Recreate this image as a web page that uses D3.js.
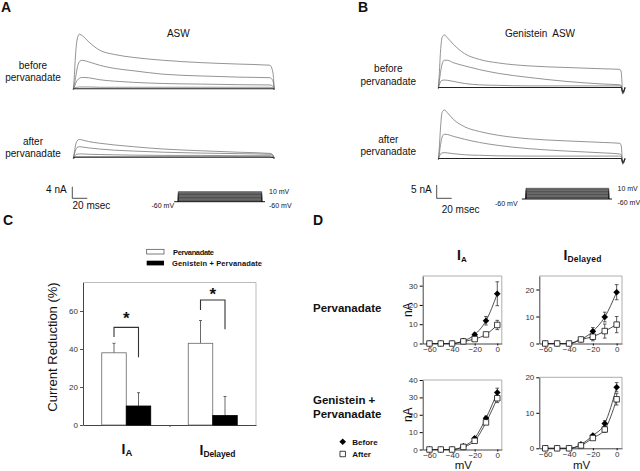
<!DOCTYPE html>
<html>
<head>
<meta charset="utf-8">
<style>
  body { margin: 0; background: #fff; }
  svg text { font-family: "Liberation Sans", Arial, sans-serif; fill: #111; }
  .tick text { fill: #333; }
</style>
</head>
<body>
<div id="figure"></div>
<script src="https://d3js.org/d3.v7.min.js"></script>
<script>
// ---------- data ----------
// A: ASW current traces (nA) sampled at timeA (msec)
var timeA = [0, 1, 3, 5, 8, 12, 20, 35, 55, 80, 120, 170, 220, 262, 266, 268];
var aswBefore = [
  [0, 3, 12, 17, 19, 18.5, 16.5, 13.5, 12, 11, 10, 9.2, 8.7, 8.3, 6, 0],
  [0, 1, 4, 7, 9.5, 10, 9.5, 8.3, 7.2, 6.4, 5.2, 4.6, 4.2, 4.0, 3, 0],
  [0, 0.5, 2, 3, 3.8, 4.1, 4, 3.3, 2.8, 2.4, 2, 1.8, 1.6, 1.5, 1.1, 0],
  [0, 0.3, 0.6, 0.7, 0.8, 0.8, 0.8, 0.7, 0.7, 0.7, 0.7, 0.7, 0.7, 0.7, 0.5, 0],
  [0, 0.2, 0.2, 0.2, 0.2, 0.2, 0.2, 0.2, 0.2, 0.2, 0.2, 0.2, 0.2, 0.2, 0.2, 0]
];
var aswAfter = [
  [0, 1.5, 4.5, 6, 6.5, 6.3, 5.8, 5.2, 4.6, 4, 3.2, 2.6, 2.1, 1.7, 1.2, 0],
  [0, 1, 2.8, 3.7, 4, 3.9, 3.6, 3.2, 2.8, 2.5, 2.1, 1.8, 1.6, 1.4, 1, 0],
  [0, 0.5, 1.2, 1.4, 1.5, 1.5, 1.4, 1.3, 1.2, 1.1, 1, 1, 0.9, 0.9, 0.6, 0],
  [0, 0.2, 0.4, 0.4, 0.4, 0.4, 0.4, 0.4, 0.4, 0.4, 0.4, 0.4, 0.4, 0.4, 0.3, 0]
];
// B: Genistein ASW traces
var timeB = [0, 1, 3, 5, 8, 12, 20, 35, 55, 80, 120, 170, 220, 242, 244, 246, 249];
var genBefore = [
  [0, 4, 14, 19, 20, 19, 16.5, 13, 10.8, 9.5, 8.4, 7.8, 7.3, 7.1, 6, -2, 0.3],
  [0, 2, 6, 9, 10.5, 10.5, 9.6, 8.4, 7, 5.6, 4.1, 2.6, 1.6, 1.3, 1, -2, 0.3],
  [0, 1, 2.5, 3, 3.1, 3, 2.6, 1.8, 1.3, 1.1, 0.9, 0.9, 0.9, 0.9, 0.8, -2, 0.3],
  [0, 0.3, 0.3, 0.3, 0.3, 0.3, 0.3, 0.3, 0.3, 0.3, 0.3, 0.3, 0.3, 0.3, 0.3, -1.5, 0.3]
];
var genAfter = [
  [0, 3, 12, 17.5, 18.5, 17.5, 15, 12.2, 10.4, 9, 7.7, 6.9, 6.3, 6, 5, -1.8, 0.3],
  [0, 1.5, 5.5, 8.3, 9.4, 9.3, 8.6, 7.5, 6.3, 5.2, 4, 3.1, 2.4, 2, 1.7, -1.8, 0.3],
  [0, 0.8, 2, 2.4, 2.5, 2.4, 2.1, 1.7, 1.5, 1.3, 1.2, 1.2, 1.2, 1.2, 1, -1.5, 0.3],
  [0, 0.3, 0.3, 0.3, 0.3, 0.3, 0.3, 0.3, 0.3, 0.3, 0.3, 0.3, 0.3, 0.3, 0.3, -1.2, 0.3]
];
// voltage protocol
var holdingV = -60;
var stepVolts = [-50, -40, -30, -20, -10, 0, 10];

// C: current reduction (%)
var groups = ["IA", "IDelayed"];
var pervReduction = [38, 43];
var pervReductionErr = [5, 12];
var genPervReduction = [10, 5];
var genPervReductionErr = [7, 10];
// significance brackets (% levels): left leg foot, bracket top, right leg foot, star
var bracketLeft = [46.3, 60.5];
var bracketTop = [51.4, 65.8];
var bracketRight = [35.6, 50.4];
var bracketStar = [57.4, 70.2];

// D: I-V curves (nA)
var voltages = [-60, -50, -40, -30, -20, -10, 0];
var pervIABefore = [0, 0, 0, 1.3, 4.6, 11.8, 25.8];
var pervIABeforeErr = [0, 0, 0, 0.5, 0.8, 2.2, 6.2];
var pervIAAfter = [0, 0, 0, 1.1, 2.3, 4.7, 9.6];
var pervIAAfterErr = [0, 0, 0, 0.3, 0.6, 0.8, 2.4];
var pervIDBefore = [0, 0, 0, 1.5, 4.5, 9.8, 19];
var pervIDBeforeErr = [0, 0, 0, 0.4, 1.4, 1.8, 2.8];
var pervIDAfter = [0, 0, 0, 1.5, 2.5, 4.6, 7];
var pervIDAfterErr = [0, 0, 0, 0.4, 1.5, 2.6, 3];
var genIABefore = [0, 0, 0, 1.8, 6.5, 18, 32.8];
var genIABeforeErr = [0, 0, 0, 0.3, 0.8, 1.2, 2.5];
var genIAAfter = [0, 0, 0, 1.5, 5, 15.6, 29.5];
var genIAAfterErr = [0, 0, 0, 0.3, 0.8, 1.2, 2.5];
var genIDBefore = [0, 0, 0, 1.1, 3.6, 7, 17.2];
var genIDBeforeErr = [0, 0, 0, 0.3, 0.4, 0.8, 1.3];
var genIDAfter = [0, 0, 0, 0.8, 2.9, 5.3, 13.8];
var genIDAfterErr = [0, 0, 0, 0.2, 0.4, 0.8, 1.6];

// ---------- drawing ----------
var svg = d3.select("#figure").append("svg")
  .attr("width", 640).attr("height", 471);

function label(x, y, txt, size, opts) {
  opts = opts || {};
  var t = svg.append("text").attr("x", x).attr("y", y)
    .attr("font-size", size).text(txt);
  if (opts.anchor) t.attr("text-anchor", opts.anchor);
  if (opts.bold) t.attr("font-weight", "bold");
  return t;
}

// panel letters
label(1, 12, "A", 14, {bold: true});
label(358, 12, "B", 14, {bold: true});
label(3, 225, "C", 14, {bold: true});
label(313, 225, "D", 14, {bold: true});

function drawTraces(time, traces, x, y) {
  var line = d3.line()
    .x(function(d, i) { return x(time[i]); })
    .y(function(d) { return y(d); })
    .curve(d3.curveMonotoneX);
  svg.append("g").selectAll("path")
    .data(traces)
    .enter().append("path")
    .attr("d", line)
    .attr("fill", "none")
    .attr("stroke", function(d, i) { return i == traces.length - 1 ? "#222" : "#666"; })
    .attr("stroke-width", function(d, i) { return i == traces.length - 1 ? 1.1 : 0.7; });
}

function drawProtocol(x0, x1, yBase, yTop, leftLabelX, rightLabelX) {
  var xP = d3.scaleLinear().domain([0, 100]).range([x0, x1]);
  var yP = d3.scaleLinear().domain([holdingV, 10]).range([yBase, yTop]);
  var g = svg.append("g");
  g.append("rect")
    .attr("x", xP(0)).attr("y", yP(10))
    .attr("width", xP(100) - xP(0)).attr("height", yP(holdingV) - yP(10))
    .attr("fill", "#8a8a8a");
  g.selectAll("path.step")
    .data(stepVolts)
    .enter().append("path")
    .attr("class", "step")
    .attr("d", function(v) {
      return "M" + xP(0) + "," + yP(holdingV) + "V" + yP(v) + "H" + xP(100) + "V" + yP(holdingV);
    })
    .attr("fill", "none").attr("stroke", "#222").attr("stroke-width", 0.6);
  g.append("line")
    .attr("x1", xP(-5)).attr("x2", xP(104))
    .attr("y1", yP(holdingV)).attr("y2", yP(holdingV))
    .attr("stroke", "#111").attr("stroke-width", 1);
  label(rightLabelX, yP(10) + 2.5, "10 mV", 7);
  label(rightLabelX, yBase + 6, "-60 mV", 7);
  label(leftLabelX, yBase + 6.5, "-60 mV", 7);
}

// ---- panel A ----
var xA = d3.scaleLinear().domain([0, 268]).range([73.3, 274.3]);
var yABefore = d3.scaleLinear().domain([0, 20]).range([89.3, 89.3 - 58]);
var yAAfter = d3.scaleLinear().domain([0, 20]).range([158.3, 158.3 - 58]);
drawTraces(timeA, aswBefore, xA, yABefore);
drawTraces(timeA, aswAfter, xA, yAAfter);
label(178.3, 37, "ASW", 10, {anchor: "middle"});
label(33, 69, "before", 10, {anchor: "middle"});
label(33, 81, "pervanadate", 10, {anchor: "middle"});
label(33, 145, "after", 10, {anchor: "middle"});
label(33, 157, "pervanadate", 10, {anchor: "middle"});
// scale bar 4 nA / 20 msec
svg.append("path")
  .attr("d", "M72.3," + (198.3 - (yABefore(0) - yABefore(4))) + "V198.3H" + (72.3 + xA(20) - xA(0)))
  .attr("fill", "none").attr("stroke", "#222").attr("stroke-width", 0.8);
label(66.7, 193, "4 nA", 10, {anchor: "end"});
label(72.5, 208.5, "20 msec", 10);
drawProtocol(178.3, 261.7, 201.7, 191.7, 151.5, 269);

// ---- panel B ----
var xB = d3.scaleLinear().domain([0, 249]).range([438.3, 625]);
var yBBefore = d3.scaleLinear().domain([0, 20]).range([88.3, 88.3 - 53.4]);
var yBAfter = d3.scaleLinear().domain([0, 20]).range([159.3, 159.3 - 53.4]);
drawTraces(timeB, genBefore, xB, yBBefore);
drawTraces(timeB, genAfter, xB, yBAfter);
label(540, 37, "Genistein\u00a0 ASW", 10, {anchor: "middle"});
label(388.3, 71.5, "before", 10, {anchor: "middle"});
label(388.3, 84.5, "pervanadate", 10, {anchor: "middle"});
label(388.3, 142.5, "after", 10, {anchor: "middle"});
label(388.3, 155, "pervanadate", 10, {anchor: "middle"});
svg.append("path")
  .attr("d", "M436.7," + (198.3 - (yBBefore(0) - yBBefore(5))) + "V198.3H" + (436.7 + xB(20) - xB(0)))
  .attr("fill", "none").attr("stroke", "#222").attr("stroke-width", 0.8);
label(431.7, 193, "5 nA", 10, {anchor: "end"});
label(441.7, 212.5, "20 msec", 10);
drawProtocol(526, 608.7, 199, 188.3, 495, 617.5);

// ---- panel C ----
var xC = d3.scalePoint().domain(groups).range([83, 256]).padding(0.5);
var yC = d3.scaleLinear().domain([0, 75]).range([425, 282.5]);
var barW = 24.5;
var gC = svg.append("g");
// frame
gC.append("path")
  .attr("d", "M83,282.5H256V425")
  .attr("fill", "none").attr("stroke", "#aaa").attr("stroke-width", 0.8);
gC.append("g")
  .attr("transform", "translate(83,0)")
  .call(d3.axisLeft(yC).tickValues([0, 20, 40, 60]).tickSize(3).tickPadding(2).tickSizeOuter(0))
  .call(function(g) {
    g.selectAll("text").attr("font-size", 8).attr("font-family", "Liberation Sans, Arial");
    g.selectAll("line").attr("stroke", "#555");
    g.select(".domain").attr("stroke", "#444");
  });
gC.append("g")
  .attr("transform", "translate(0,425)")
  .call(d3.axisBottom(d3.scaleLinear().domain([0, 2]).range([83, 256])).tickValues([1]).tickSize(2).tickFormat("").tickSizeOuter(0))
  .call(function(g) { g.select(".domain").attr("stroke", "#444"); g.selectAll("line").attr("stroke", "#555"); });

// bars + errors
var barSeries = [
  {vals: pervReduction, errs: pervReductionErr, off: -barW, fill: "#fff", stroke: "#666"},
  {vals: genPervReduction, errs: genPervReductionErr, off: 0, fill: "#000", stroke: "#000"}
];
barSeries.forEach(function(s) {
  var gs = gC.append("g");
  gs.selectAll("path.err")
    .data(groups).enter().append("path")
    .attr("d", function(d, i) {
      var cx = xC(d) + s.off + barW / 2;
      return "M" + cx + "," + yC(s.vals[i]) + "V" + yC(s.vals[i] + s.errs[i]) + "M" + (cx - 1.5) + "," + yC(s.vals[i] + s.errs[i]) + "H" + (cx + 1.5);
    })
    .attr("stroke", "#444").attr("stroke-width", 0.8).attr("fill", "none");
  gs.selectAll("rect")
    .data(groups).enter().append("rect")
    .attr("x", function(d) { return xC(d) + s.off; })
    .attr("y", function(d, i) { return yC(s.vals[i]); })
    .attr("width", barW)
    .attr("height", function(d, i) { return yC(0) - yC(s.vals[i]); })
    .attr("fill", s.fill).attr("stroke", s.stroke).attr("stroke-width", 0.8);
});
// brackets
groups.forEach(function(gname, i) {
  var xl = xC(gname) - barW / 2, xr = xC(gname) + barW / 2;
  gC.append("path")
    .attr("d", "M" + xl + "," + yC(bracketLeft[i]) + "V" + yC(bracketTop[i]) + "H" + xr + "V" + yC(bracketRight[i]))
    .attr("fill", "none").attr("stroke", "#333").attr("stroke-width", 1.1);
  gC.append("text")
    .attr("x", xC(gname)).attr("y", yC(bracketStar[i]) + 8)
    .attr("text-anchor", "middle").attr("font-size", 17).attr("font-weight", "bold")
    .text("*");
});
// group labels
var glA = gC.append("text").attr("x", 121.5).attr("y", 453.5).attr("font-weight", "bold").attr("font-size", 14);
glA.append("tspan").text("I");
glA.append("tspan").attr("font-size", 9.5).attr("dy", 2).text("A");
var glD = gC.append("text").attr("x", 199.5).attr("y", 454.5).attr("font-weight", "bold").attr("font-size", 14);
glD.append("tspan").text("I");
glD.append("tspan").attr("font-size", 8.5).attr("dy", 2).attr("textLength", 32).text("Delayed");
// y label
gC.append("text")
  .attr("transform", "translate(57,347) rotate(-90)")
  .attr("text-anchor", "middle").attr("font-size", 13)
  .text("Current Reduction (%)");
// legend
gC.append("rect").attr("x", 146.7).attr("y", 249.3).attr("width", 17.3).attr("height", 4.7)
  .attr("fill", "#fff").attr("stroke", "#444").attr("stroke-width", 0.7);
gC.append("rect").attr("x", 146.7).attr("y", 260.7).attr("width", 17.3).attr("height", 4.7)
  .attr("fill", "#000");
label(173, 255, "Pervanadate", 7.5, {bold: true}).attr("textLength", 41);
label(172, 266.3, "Genistein + Pervanadate", 7.5, {bold: true}).attr("textLength", 90);

// ---- panel D ----
var bodyD = [
  {x: [422.7, 501.8], y: [276, 343.5], xd: [-66, 4], yd: [0, 35], yt: [0, 10, 20, 30],
   before: pervIABefore, beforeErr: pervIABeforeErr, after: pervIAAfter, afterErr: pervIAAfterErr, nA: true, mV: false},
  {x: [539.3, 622], y: [276, 343.5], xd: [-65, 4.5], yd: [0, 25], yt: [0, 10, 20],
   before: pervIDBefore, beforeErr: pervIDBeforeErr, after: pervIDAfter, afterErr: pervIDAfterErr, nA: false, mV: false},
  {x: [422.7, 501.8], y: [380, 449.5], xd: [-66, 4], yd: [0, 40], yt: [0, 10, 20, 30, 40],
   before: genIABefore, beforeErr: genIABeforeErr, after: genIAAfter, afterErr: genIAAfterErr, nA: true, mV: true},
  {x: [539.3, 622], y: [377.3, 448.3], xd: [-65, 4.5], yd: [0, 20], yt: [0, 10, 20],
   before: genIDBefore, beforeErr: genIDBeforeErr, after: genIDAfter, afterErr: genIDAfterErr, nA: false, mV: true}
];

var diamond = d3.symbol().type(d3.symbolSquare).size(22);
var square = d3.symbol().type(d3.symbolSquare).size(30);

bodyD.forEach(function(p) {
  var x = d3.scaleLinear().domain(p.xd).range(p.x);
  var y = d3.scaleLinear().domain(p.yd).range([p.y[1], p.y[0]]);
  var g = svg.append("g");
  g.append("path")
    .attr("d", "M" + p.x[0] + "," + p.y[0] + "H" + p.x[1] + "V" + p.y[1])
    .attr("fill", "none").attr("stroke", "#999").attr("stroke-width", 0.8);
  g.append("g").attr("transform", "translate(" + p.x[0] + ",0)")
    .call(d3.axisLeft(y).tickValues(p.yt).tickSize(3).tickPadding(2).tickSizeOuter(0))
    .call(function(a) {
      a.selectAll("text").attr("font-size", 8).attr("font-family", "Liberation Sans, Arial");
      a.select(".domain").attr("stroke", "#444");
    });
  g.append("g").attr("transform", "translate(0," + p.y[1] + ")")
    .call(d3.axisBottom(x).tickValues([-60, -40, -20, 0]).tickSize(2).tickPadding(1).tickSizeOuter(0))
    .call(function(a) {
      a.selectAll("text").attr("font-size", 8).attr("font-family", "Liberation Sans, Arial");
      a.select(".domain").attr("stroke", "#444");
    });

  var line = d3.line().x(function(d, i) { return x(voltages[i]); }).y(function(d) { return y(d); })
    .curve(d3.curveMonotoneX);
  [[p.before, p.beforeErr], [p.after, p.afterErr]].forEach(function(s) {
    var vals = s[0], errs = s[1];
    g.append("path").attr("d", line(vals)).attr("fill", "none")
      .attr("stroke", "#222").attr("stroke-width", 0.8);
    g.selectAll(null).data(voltages).enter().filter(function(v, i) { return errs[i] > 0.6; })
      .append("path")
      .attr("d", function(v) {
        var i = voltages.indexOf(v), cx = x(v), d = vals[i];
        return "M" + cx + "," + y(d - errs[i]) + "V" + y(d + errs[i]) +
          "M" + (cx - 1.8) + "," + y(d + errs[i]) + "H" + (cx + 1.8) +
          "M" + (cx - 1.8) + "," + y(d - errs[i]) + "H" + (cx + 1.8);
      })
      .attr("stroke", "#333").attr("stroke-width", 0.8).attr("fill", "none");
  });
  g.selectAll(null).data(p.before).enter().append("path")
    .attr("d", diamond)
    .attr("transform", function(d, i) { return "translate(" + x(voltages[i]) + "," + y(d) + ") rotate(45)"; })
    .attr("fill", "#000");
  g.selectAll(null).data(p.after).enter().append("path")
    .attr("d", square)
    .attr("transform", function(d, i) { return "translate(" + x(voltages[i]) + "," + y(d) + ")"; })
    .attr("fill", "#fff").attr("stroke", "#111").attr("stroke-width", 0.8);

  if (p.nA) {
    g.append("text").attr("transform", "translate(" + 411.5 + "," + (p.y[0] + p.y[1]) / 2 + ") rotate(-90)")
      .attr("text-anchor", "middle").attr("font-size", 12).text("nA");
  }
  if (p.mV) {
    g.append("text").attr("x", (p.x[0] + p.x[1]) / 2 + 1).attr("y", 468.5)
      .attr("text-anchor", "middle").attr("font-size", 11.5).text("mV");
  }
});

// D headers
var hA = svg.append("text").attr("x", 457).attr("y", 260).attr("font-weight", "bold").attr("font-size", 14);
hA.append("tspan").text("I");
hA.append("tspan").attr("font-size", 8).attr("dy", 1.5).text("A");
var hD = svg.append("text").attr("x", 563.5).attr("y", 260).attr("font-weight", "bold").attr("font-size", 14);
hD.append("tspan").text("I");
hD.append("tspan").attr("font-size", 8.5).attr("dy", 1.5).attr("textLength", 34).text("Delayed");

label(313, 312, "Pervanadate", 11.5, {bold: true});
label(313, 404, "Genistein +", 11.5, {bold: true});
label(313, 418, "Pervanadate", 11.5, {bold: true});

// D legend
svg.append("path").attr("d", diamond).attr("transform", "translate(342.7,441.7) rotate(45)").attr("fill", "#000");
svg.append("path").attr("d", square).attr("transform", "translate(342.7,454)")
  .attr("fill", "#fff").attr("stroke", "#111").attr("stroke-width", 0.8);
label(352.3, 444.5, "Before", 8, {bold: true});
label(352.3, 457, "After", 8, {bold: true});
</script>
</body>
</html>
